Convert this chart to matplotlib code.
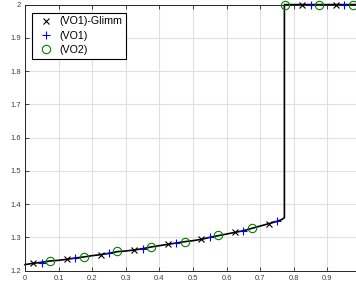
import numpy as np
import matplotlib.pyplot as plt

# black curve (VO1)-Glimm reference solution
line_x = [0.0, 0.025, 0.05, 0.075, 0.1, 0.125, 0.15, 0.175, 0.2, 0.225, 0.25, 0.275,
          0.3, 0.325, 0.35, 0.375, 0.4, 0.425, 0.45, 0.475, 0.5, 0.525, 0.55, 0.575,
          0.6, 0.625, 0.65, 0.675, 0.7, 0.725, 0.75, 0.765, 0.772, 0.772, 1.0]
line_y = [1.218, 1.222, 1.225, 1.229, 1.231, 1.234, 1.238, 1.241, 1.245, 1.248, 1.252, 1.257,
          1.259, 1.262, 1.266, 1.271, 1.275, 1.279, 1.283, 1.287, 1.290, 1.294, 1.300, 1.305,
          1.310, 1.315, 1.320, 1.327, 1.334, 1.341, 1.348, 1.354, 1.359, 2.0, 2.0]

glimm_x = [0.025, 0.125, 0.225, 0.325, 0.425, 0.525, 0.625, 0.725, 0.825, 0.925]
glimm_y = [1.222, 1.234, 1.248, 1.262, 1.279, 1.294, 1.315, 1.341, 2.0, 2.0]

vo1_x = [0.05, 0.15, 0.25, 0.35, 0.45, 0.55, 0.65, 0.75, 0.85, 0.95]
vo1_y = [1.224, 1.239, 1.252, 1.266, 1.282, 1.302, 1.320, 1.348, 2.0, 2.0]

vo2_x = [0.075, 0.175, 0.275, 0.375, 0.475, 0.575, 0.675, 0.775, 0.875, 0.975]
vo2_y = [1.229, 1.242, 1.258, 1.272, 1.287, 1.306, 1.328, 2.0, 2.0, 2.0]

xticks = [0, 0.1, 0.2, 0.3, 0.4, 0.5, 0.6, 0.7, 0.8, 0.9]
yticks = [1.2, 1.3, 1.4, 1.5, 1.6, 1.7, 1.8, 1.9, 2.0]
ytick_labels = ["1.2", "1.3", "1.4", "1.5", "1.6", "1.7", "1.8", "1.9", "2"]

plt.rcParams["font.family"] = ["Liberation Sans", "DejaVu Sans"]

fig = plt.figure(figsize=(3.56, 2.89), dpi=100)
ax = fig.add_axes([25 / 356, 18.4 / 289, 336 / 356, 266 / 289])

ax.plot(line_x, line_y, color="black", lw=1.2, zorder=2, clip_on=False)
ax.plot(glimm_x, glimm_y, ls="none", marker="x", color="black", ms=4.5, mew=0.8,
        label="(VO1)-Glimm", zorder=3, clip_on=False)
ax.plot(vo1_x, vo1_y, ls="none", marker="+", color="#0000ff", ms=6, mew=0.8,
        label="(VO1)", zorder=3, clip_on=False)
ax.plot(vo2_x, vo2_y, ls="none", marker="o", mfc="none", mec="#008000", ms=6, mew=0.8,
        label="(VO2)", zorder=3, clip_on=False)

ax.set_xlim(0, 1)
ax.set_ylim(1.2, 2.0)
ax.set_xticks(xticks)
ax.set_xticklabels([f"{t:g}" for t in xticks])
ax.set_yticks(yticks)
ax.set_yticklabels(ytick_labels)

ax.grid(True, color="#e0e0e0", lw=0.8)
ax.set_axisbelow(True)
ax.tick_params(direction="in", length=3, width=0.6, labelsize=5.5, colors="#262626",
               top=True, right=True, pad=3)
ax.tick_params(axis="both", labelcolor="#404040")
for side in ax.spines.values():
    side.set_color("#262626")
    side.set_linewidth(0.7)

leg = ax.legend(loc="upper left", bbox_to_anchor=(7 / 336, 1 - 8 / 266), fontsize=7.7,
                fancybox=False, framealpha=1, edgecolor="black", borderpad=0.35,
                labelspacing=0.4, handletextpad=0.2, handlelength=2.0, borderaxespad=0)
leg.get_frame().set_linewidth(0.8)

fig.savefig("out.png", dpi=100)
